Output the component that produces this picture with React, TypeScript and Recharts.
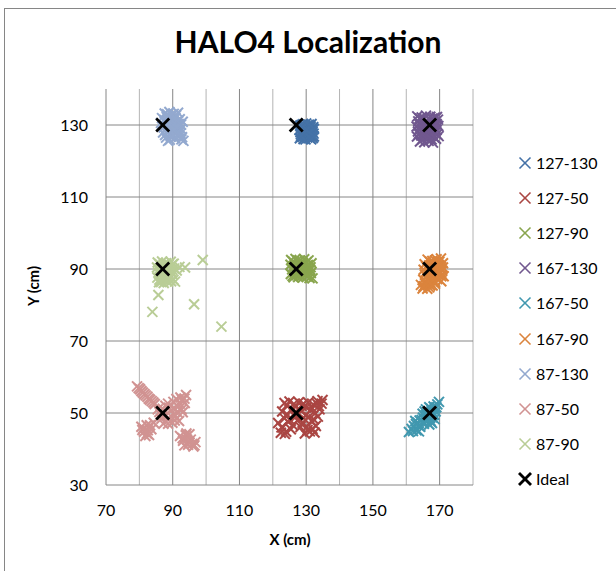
import React from 'react';
import { ScatterChart, Scatter, XAxis, YAxis, ReferenceLine } from 'recharts';

const xTicks = [70, 90, 110, 130, 150, 170];
const yTicks = [30, 50, 70, 90, 110, 130];
const xMinorGrid = [80, 100, 120, 140, 160, 180];
const xMajorGrid = [90, 110, 130, 150, 170];
const yMajorGrid = [50, 70, 90, 110, 130];

const s127_130 = [[128.2,129.8],[129.1,130.2],[130.4,129.9],[131.6,130.3],[132.1,129.4],[128.0,128.6],[129.3,128.9],[130.6,128.4],[131.8,128.7],[128.4,127.4],[129.7,127.7],[130.9,127.2],[132.2,127.6],[128.1,126.3],[129.2,126.1],[130.3,126.5],[131.5,126.0],[132.0,126.4],[129.9,129.1],[130.1,127.9],[131.2,129.2],[128.8,127.9],[129.5,126.8],[131.0,126.9],[128.6,130.0],[130.8,130.1],[131.9,128.1],
  [128.7,129.2],[130.0,130.4],[131.3,129.6],[128.3,128.0],[129.6,128.3],[130.9,128.1],[132.3,128.9],[128.9,126.7],[130.6,127.6],[131.7,127.0],[129.8,126.0],[131.2,126.3],[128.5,126.9],[132.3,126.8]];

const s127_50 = [[123.5,52.8],[125.0,53.2],[126.3,52.5],[127.8,53.0],[129.2,52.6],[130.6,52.9],[132.1,52.4],[133.4,53.3],[134.6,52.6],[122.8,50.4],[124.3,49.6],[125.7,51.1],[128.4,50.6],[129.9,49.4],[131.3,50.8],[132.7,49.9],[134.0,51.0],[126.8,48.9],[121.6,47.2],[123.0,46.0],[124.5,47.6],[126.0,46.6],[128.9,47.3],[130.2,46.1],[131.6,47.8],[132.9,46.4],[127.4,47.9],[122.4,44.5],[124.0,44.8],[129.6,44.3],[131.1,44.9],[132.5,44.6],[130.4,45.3],[134.9,53.6],[133.8,51.9],
  [124.2,52.1],[126.9,51.7],[128.6,52.0],[130.0,51.5],[131.8,51.3],[133.2,52.6],[123.5,48.5],[125.0,48.2],[127.6,49.8],[129.2,48.6],[130.8,48.9],[132.3,48.2],[133.5,49.0],[122.6,46.0],[125.4,45.5],[128.3,46.1],[131.9,45.6],[123.6,44.2],[126.4,49.7]];

const s127_90 = [[125.5,92.5],[126.8,92.8],[128.1,92.3],[129.4,92.7],[130.7,92.4],[125.3,91.2],[126.6,91.5],[127.9,91.0],[129.2,91.4],[130.5,91.1],[131.6,91.6],[125.8,89.9],[127.1,90.2],[128.5,89.7],[129.8,90.1],[131.2,89.8],[125.4,88.6],[126.7,88.9],[128.0,88.4],[129.3,88.8],[130.6,88.3],[131.9,87.4],[126.2,87.7],[127.6,87.8],[129.0,87.6],[130.2,87.9],[131.4,88.9],
  [126.1,92.0],[127.4,92.4],[128.8,92.0],[130.1,91.9],[126.0,90.6],[127.3,90.9],[128.7,90.6],[130.0,90.8],[131.3,90.5],[126.4,89.3],[127.8,89.4],[129.1,89.3],[130.4,89.4],[125.9,88.1],[127.2,88.3],[128.6,88.0],[130.0,88.5],[131.0,87.5]];

const s167_130 = [[163.3,132.4],[164.6,132.1],[165.9,132.6],[167.2,132.3],[168.5,132.0],[163.6,131.0],[164.9,131.3],[166.2,130.8],[167.5,131.2],[168.8,130.9],[169.5,131.5],[163.1,129.6],[164.4,129.9],[165.7,129.4],[167.0,129.8],[168.3,129.3],[169.6,129.7],[163.5,128.2],[164.8,128.5],[166.1,128.0],[167.4,128.4],[168.7,127.9],[163.2,126.8],[164.5,127.1],[165.8,126.6],[167.1,127.0],[168.4,126.5],[169.7,126.9],[164.1,125.4],[165.4,125.2],[166.7,125.6],[168.0,125.1],
  [164.0,131.8],[165.3,131.9],[166.6,131.7],[167.9,131.8],[169.2,132.2],[163.9,130.3],[165.2,130.5],[166.5,130.2],[167.9,130.4],[169.1,130.3],[164.0,128.9],[165.2,129.0],[166.6,128.9],[167.9,128.9],[169.1,128.6],[163.8,127.5],[165.1,127.7],[166.5,127.6],[167.8,127.6],[169.2,127.4],[164.9,126.1],[166.2,126.0],[167.6,126.0],[168.9,126.2]];

const s167_50 = [[160.8,44.7],[161.6,45.6],[162.3,46.4],[163.1,45.2],[163.4,47.3],[164.2,46.2],[164.6,48.1],[165.3,47.0],[165.6,49.2],[166.2,47.9],[166.5,50.3],[167.1,48.6],[167.4,51.2],[168.0,49.5],[168.2,51.8],[168.8,50.4],[169.3,52.4],[169.8,53.1],[164.9,49.8],[166.9,46.8],[168.5,48.3],[165.9,51.0],[167.7,47.2],[162.7,47.8],[163.8,44.9],
  [162.0,45.0],[162.9,46.9],[163.9,46.4],[164.0,47.9],[164.8,47.4],[165.0,48.7],[165.9,48.4],[166.0,49.6],[166.6,49.1],[167.0,50.0],[167.6,50.5],[167.8,48.8],[168.4,49.5],[168.6,51.3],[169.0,51.6],[165.5,50.4],[166.9,51.6],[167.3,47.8]];

const s167_90 = [[166.4,92.6],[167.8,92.2],[169.1,92.7],[170.4,92.9],[165.5,91.3],[166.9,91.0],[168.3,91.5],[169.7,91.1],[171.0,91.6],[165.2,89.8],[166.6,90.1],[168.0,89.6],[169.4,90.0],[170.8,89.5],[165.6,88.4],[167.0,88.7],[168.4,88.2],[169.8,88.6],[171.2,88.0],[165.1,87.0],[166.5,87.3],[167.9,86.8],[169.3,87.2],[170.5,86.6],[164.4,85.6],[165.8,85.8],[167.2,85.4],[168.6,85.9],[164.9,84.6],[166.3,84.5],
  [167.1,92.0],[168.6,92.4],[169.9,92.0],[166.0,90.7],[167.5,90.5],[168.9,90.7],[170.2,90.5],[165.8,89.1],[167.3,89.4],[168.7,89.0],[170.1,89.2],[171.0,90.4],[166.2,87.9],[167.7,88.0],[169.1,87.8],[170.5,88.0],[165.8,86.4],[167.2,86.2],[168.6,86.4],[165.2,85.2],[166.9,84.9],[167.9,85.4]];

const s87_130 = [[87.6,133.2],[89.0,133.6],[90.3,133.1],[91.6,133.4],[86.8,131.9],[88.2,132.2],[89.5,131.7],[90.8,132.0],[92.1,131.6],[86.5,130.6],[87.9,130.8],[89.2,130.4],[90.5,130.7],[91.8,130.3],[93.0,130.9],[87.3,129.3],[88.6,129.5],[89.9,129.0],[91.2,129.4],[92.5,128.9],[87.1,127.9],[88.4,128.2],[89.7,127.7],[91.0,128.1],[92.3,127.6],[88.0,126.5],[89.4,126.8],[90.6,126.3],[91.9,126.7],[93.2,125.6],[88.6,125.6],[92.6,126.0],
  [88.3,133.0],[89.7,132.9],[91.0,132.7],[87.5,131.4],[88.9,131.4],[90.2,131.3],[91.5,131.1],[87.2,130.1],[88.5,130.0],[89.9,130.0],[91.1,129.9],[92.5,130.1],[88.0,128.8],[89.3,128.7],[90.6,128.7],[91.9,128.5],[87.7,127.2],[89.0,127.3],[90.4,127.1],[91.6,127.3],[89.1,125.9],[92.8,126.6]];

const s87_50 = [[79.3,57.4],[80.2,56.6],[81.0,55.7],[81.9,54.9],[82.8,54.0],[83.7,53.3],[84.6,52.5],[85.5,51.0],[86.4,49.6],[87.8,52.0],[88.4,48.3],[89.3,50.6],[90.2,53.1],[90.8,49.2],[91.6,51.7],[92.3,54.3],[93.0,50.2],[93.6,52.8],[94.0,55.0],[91.9,47.8],[89.9,47.3],[87.2,47.0],[92.8,53.7],[88.9,51.5],[80.6,46.2],[81.4,44.8],[82.2,46.6],[82.9,43.9],[83.6,45.5],[84.3,47.3],[81.8,43.6],[80.9,45.3],[92.2,43.6],[93.1,42.3],[93.9,43.8],[94.6,41.2],[95.4,42.6],[96.2,40.7],[96.8,41.9],[93.5,41.0],[95.0,44.1],
  [79.8,56.9],[80.6,56.1],[81.5,55.3],[82.4,54.5],[83.2,53.7],[84.2,52.9],[86.0,50.3],[87.0,51.2],[87.9,49.4],[88.6,52.6],[89.6,49.0],[90.4,51.4],[91.1,53.9],[91.3,50.3],[92.1,52.6],[92.7,51.0],[93.5,54.0],[90.6,47.9],[88.6,47.0],[86.6,48.4],[81.2,45.8],[82.5,45.2],[83.2,46.6],[82.3,44.3],[93.0,43.0],[94.3,42.6],[95.0,41.8],[95.8,41.4],[94.1,44.3],[96.5,41.0]];

const s87_90 = [[85.5,91.8],[86.8,92.1],[88.1,91.6],[89.4,92.0],[90.3,91.5],[85.3,90.4],[86.6,90.7],[87.9,90.2],[89.2,90.6],[90.4,90.1],[85.7,89.0],[87.0,89.3],[88.3,88.8],[89.6,89.2],[85.4,87.6],[86.7,87.9],[88.0,87.4],[89.3,87.8],[90.2,87.0],[85.9,86.3],[87.3,86.1],[88.6,86.5],[91.2,89.6],[92.0,90.6],[90.7,86.5],[93.7,90.4],[99.0,92.5],[85.7,82.8],[83.9,78.1],[96.4,80.2],[104.6,74.0],
  [86.1,91.3],[87.4,91.4],[88.8,91.3],[90.0,91.3],[86.0,90.0],[87.3,89.9],[88.6,89.9],[89.8,89.8],[86.3,88.5],[87.6,88.6],[88.9,88.3],[90.0,88.5],[86.0,87.0],[87.4,87.1],[88.7,87.2],[86.5,86.4],[89.5,86.6]];

const ideal = [[87,130],[127,130],[167,130],[87,90],[127,90],[167,90],[87,50],[127,50],[167,50]];

const seriesNames = ['127-130', '127-50', '127-90', '167-130', '167-50', '167-90', '87-130', '87-50', '87-90'];
const seriesValues = [s127_130, s127_50, s127_90, s167_130, s167_50, s167_90, s87_130, s87_50, s87_90];
const seriesColors = ['#4572A7', '#AA4643', '#89A54E', '#71588F', '#4198AF', '#DB843D', '#93A9CF', '#D19392', '#B9CD96'];

const toPoints = (arr: number[][]) => arr.map(([x, y]) => ({ x, y }));

const FONT = 'Lato, "Open Sans", sans-serif';

const XMark = ({ cx, cy, color, half, width }: any) => {
  if (cx == null || cy == null) return null;
  return (
    <g>
      <line x1={cx - half} y1={cy - half} x2={cx + half} y2={cy + half} stroke={color} strokeWidth={width} />
      <line x1={cx - half} y1={cy + half} x2={cx + half} y2={cy - half} stroke={color} strokeWidth={width} />
    </g>
  );
};

const LegendBox = () => {
  const names = [...seriesNames, 'Ideal'];
  const colors = [...seriesColors, '#000000'];
  return (
    <div style={{ position: 'absolute', left: 512, top: 145, fontFamily: FONT, fontSize: 16, color: '#000' }}>
      {names.map((n, i) => (
        <div key={n} style={{ position: 'absolute', top: i * 35.2, left: 0, height: 35, display: 'flex', alignItems: 'center', whiteSpace: 'nowrap' }}>
          <svg width={24} height={20} style={{ display: 'block' }}>
            <XMark cx={13} cy={10} half={n === 'Ideal' ? 6 : 5.5} width={n === 'Ideal' ? 2.8 : 1.6} color={colors[i]} />
          </svg>
          <span style={{ lineHeight: '20px' }}>{n}</span>
        </div>
      ))}
    </div>
  );
};

export default function App() {
  return (
    <div style={{ position: 'absolute', left: 0, top: 0, width: 616, height: 571, background: '#fff', overflow: 'hidden' }}>
      <div style={{ position: 'absolute', left: 4, top: 8, width: 700, height: 700, border: '1px solid #868686', boxSizing: 'border-box' }} />
      <div style={{ position: 'absolute', left: 0, width: 616, top: 23, textAlign: 'center', fontFamily: FONT, fontWeight: 700, fontSize: 30, color: '#000' }}>
        HALO4 Localization
      </div>
      <div style={{ position: 'absolute', left: 190, width: 200, top: 530, textAlign: 'center', fontFamily: FONT, fontWeight: 700, fontSize: 15, color: '#000' }}>
        X (cm)
      </div>
      <div style={{ position: 'absolute', left: 33 - 50, width: 100, top: 277, textAlign: 'center', fontFamily: FONT, fontWeight: 700, fontSize: 15, color: '#000', transform: 'rotate(-90deg)' }}>
        Y (cm)
      </div>
      <div style={{ position: 'absolute', left: 0, top: 0 }}>
        <ScatterChart width={616} height={571} margin={{ top: 89, right: 143, left: 46, bottom: 56 }}>
          <XAxis
            type="number"
            dataKey="x"
            domain={[70, 180]}
            ticks={xTicks}
            allowDataOverflow
            height={30}
            tickLine={false}
            tickSize={6}
            tickMargin={14}
            axisLine={{ stroke: '#868686' }}
            tick={{ fill: '#000', fontSize: 16, fontFamily: FONT }}
          />
          <YAxis
            type="number"
            dataKey="y"
            domain={[30, 140]}
            ticks={yTicks}
            allowDataOverflow
            width={60}
            tickLine={false}
            tickSize={6}
            tickMargin={12}
            axisLine={{ stroke: '#868686' }}
            tick={{ fill: '#000', fontSize: 16, fontFamily: FONT }}
          />
          {xMinorGrid.map((v) => (
            <ReferenceLine key={'mn' + v} x={v} stroke="#b4b4b4" strokeWidth={1} ifOverflow="extendDomain" />
          ))}
          {yMajorGrid.map((v) => (
            <ReferenceLine key={'my' + v} y={v} stroke="#868686" strokeWidth={1} />
          ))}
          {xMajorGrid.map((v) => (
            <ReferenceLine key={'mx' + v} x={v} stroke="#868686" strokeWidth={1} />
          ))}
          {seriesValues.map((vals, i) => (
            <Scatter
              key={seriesNames[i]}
              name={seriesNames[i]}
              data={toPoints(vals)}
              isAnimationActive={false}
              shape={(p: any) => <XMark cx={p.cx} cy={p.cy} half={5} width={2} color={seriesColors[i]} />}
            />
          ))}
          <Scatter
            name="Ideal"
            data={toPoints(ideal)}
            isAnimationActive={false}
            shape={(p: any) => <XMark cx={p.cx} cy={p.cy} half={6.5} width={2.8} color="#000000" />}
          />
        </ScatterChart>
      </div>
      <LegendBox />
    </div>
  );
}
